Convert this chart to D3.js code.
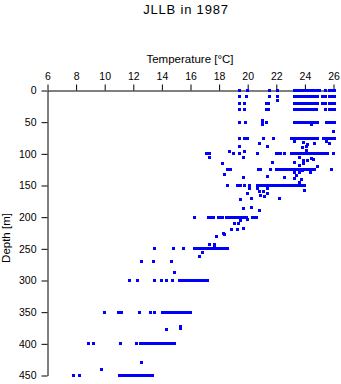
<!DOCTYPE html>
<html>
<head>
<meta charset="utf-8">
<script src="https://cdn.jsdelivr.net/npm/d3@7"></script>
<style>
  html, body { margin: 0; padding: 0; background: #fff; }
  svg { display: block; font-family: "Liberation Sans", Arial, sans-serif; }
</style>
</head>
<body>
<svg id="chart" width="341" height="384"></svg>
<script>
// ---- Data ----
const chartTitle = "JLLB in 1987";
const xLabel = "Temperature [\u00B0C]";
const yLabel = "Depth [m]";
const xTicks = [6, 8, 10, 12, 14, 16, 18, 20, 22, 24, 26];
const yTicks = [0, 50, 100, 150, 200, 250, 300, 350, 400, 450];

// Standard sampling depths and the temperatures observed at each
const levelDepths = [0, 10, 20, 30, 50, 75, 100, 125, 150, 200, 250, 300, 350, 400, 450];
const levelTemps = [
  [19.4, 20.0, 21.5, 22.05, 23.25, 23.4, 23.55, 23.7, 23.85, 24.0, 24.15, 24.3, 24.45, 24.6, 24.75, 24.9, 25.05, 25.45, 25.7, 25.85, 26.0, 26.1],
  [19.4, 19.95, 21.5, 22.05, 23.25, 23.4, 23.55, 23.7, 23.85, 24.0, 24.15, 24.3, 24.45, 24.6, 24.75, 24.9, 25.2, 25.45, 25.7, 25.85, 26.0, 26.1],
  [19.4, 19.8, 21.3, 21.45, 23.25, 23.4, 23.55, 23.7, 23.85, 24.0, 24.15, 24.3, 24.45, 24.6, 24.75, 24.9, 25.2, 25.45, 25.7, 25.85, 26.0, 26.1],
  [19.4, 19.8, 21.3, 21.45, 23.25, 23.4, 23.55, 23.7, 23.85, 24.0, 24.15, 24.3, 24.45, 24.6, 24.8, 25.45, 25.7, 25.85, 26.0, 26.1],
  [19.4, 19.83, 21.0, 21.3, 23.25, 23.4, 23.55, 23.7, 23.85, 24.0, 24.15, 24.3, 24.45, 24.6, 24.75, 24.9, 25.5, 25.75, 25.9, 26.05],
  [19.4, 19.8, 20.0, 21.1, 21.8, 23.05, 23.2, 23.35, 23.5, 23.65, 23.8, 23.95, 24.1, 24.25, 24.4, 24.55, 24.7, 24.9, 25.3, 25.45, 25.6, 25.75, 25.9, 26.05],
  [17.15, 17.3, 19.0, 19.4, 20.7, 22.0, 22.15, 22.3, 22.6, 23.05, 23.2, 23.35, 23.5, 23.65, 23.8, 23.95, 24.1, 24.25, 24.4, 24.55, 24.7, 24.85, 25.0, 25.15, 25.3, 25.45, 25.6, 26.0],
  [18.6, 18.8, 20.75, 20.9, 21.6, 22.0, 22.2, 22.35, 22.6, 22.75, 22.9, 23.05, 23.2, 23.35, 23.5, 23.65, 23.8, 23.95, 24.1, 24.25, 24.4, 24.55, 24.7, 25.85],
  [18.6, 19.3, 19.4, 19.5, 19.8, 20.1, 20.7, 20.85, 21.0, 21.15, 21.3, 21.45, 21.6, 21.75, 21.9, 22.05, 22.2, 22.35, 22.5, 22.65, 22.8, 22.95, 23.1, 23.25, 23.4, 23.55, 23.75, 24.0],
  [16.3, 17.25, 17.4, 17.6, 17.95, 18.1, 18.25, 18.5, 18.65, 18.8, 18.95, 19.1, 19.25, 19.4, 19.55, 19.7, 19.9, 20.35, 20.5, 20.6],
  [13.5, 14.8, 15.5, 16.3, 16.45, 16.6, 16.75, 16.9, 17.05, 17.2, 17.35, 17.5, 17.65, 17.8, 17.95, 18.1, 18.25, 18.4, 18.6],
  [11.7, 12.3, 13.5, 14.0, 14.3, 14.75, 15.2, 15.45, 15.6, 15.75, 15.9, 16.05, 16.2, 16.35, 16.5, 16.65, 16.8, 16.95, 17.1, 17.2],
  [10.0, 10.95, 11.15, 12.4, 13.2, 13.5, 14.05, 14.2, 14.35, 14.5, 14.65, 14.8, 14.95, 15.1, 15.25, 15.4, 15.55, 15.7, 15.85, 16.0],
  [8.85, 9.25, 11.1, 12.2, 12.5, 12.65, 12.8, 12.95, 13.1, 13.25, 13.4, 13.55, 13.7, 13.9, 14.05, 14.2, 14.4, 14.6, 14.75, 14.9],
  [7.85, 8.25, 11.0, 11.25, 11.4, 11.55, 11.7, 11.85, 12.0, 12.15, 12.3, 12.45, 12.6, 12.75, 12.9, 13.05, 13.2, 13.35]
];

// Observations between the standard depths
const extraTemps = [22.05, 21.0, 21.0, 24.45, 26.0,
  20.8, 23.3, 23.9, 24.2, 24.7, 25.5, 25.75,
  19.4, 21.4, 23.8, 24.1, 24.1, 18.7, 17.3, 19.8, 19.7, 23.6, 24.45, 23.9, 24.2, 24.6, 23.3, 21.7, 18.25, 23.6, 23.9, 24.9,
  23.3, 23.6, 23.85, 24.4, 18.4, 19.7, 21.35, 22.6, 23.4, 23.3, 23.75, 23.6,
  20.1, 20.7, 21.35, 20.8, 21.1, 21.4, 24.0, 20.0, 20.9, 21.2, 20.3, 19.5, 22.2,
  20.8, 19.7, 20.25,
  20.0, 19.1, 19.35, 19.5, 18.85, 19.3, 19.7, 18.3, 18.4, 17.85, 17.3, 17.7, 17.7,
  16.85, 16.6, 12.6, 13.4, 14.7, 14.9,
  14.3, 15.3, 15.3, 12.6, 9.8];
const extraDepths = [15, 47, 53, 53, 65,
  84, 80, 82, 85, 84, 80, 84,
  89, 89, 90, 89, 95, 97, 105, 97, 105, 105, 108, 110, 111, 109, 114, 114, 116, 118, 116, 120,
  129, 129, 127, 129, 132, 138, 136, 138, 134, 139, 141, 145,
  155, 155, 154, 160, 160, 162, 158, 163, 166, 168, 171, 172, 171,
  190, 187, 185,
  203, 210, 210, 205, 220, 220, 218, 225, 227, 230, 243, 243, 245,
  255, 262, 270, 270, 270, 287,
  378, 375, 372, 429, 440];

// ---- Build point table ----
const points = [];
levelDepths.forEach((d, i) => levelTemps[i].forEach(t => points.push({t, d})));
extraTemps.forEach((t, i) => points.push({t, d: extraDepths[i]}));

// ---- Drawing ----
const svg = d3.select("#chart");
const x = d3.scaleLinear().domain([6, 26]).range([47, 333]);
const y = d3.scaleLinear().domain([0, 450]).range([90, 375]);

svg.append("text")
  .attr("x", 186).attr("y", 14)
  .attr("text-anchor", "middle")
  .attr("font-size", 13)
  .attr("letter-spacing", 0.8)
  .text(chartTitle);

const gx = svg.append("g").attr("transform", "translate(0.5,90.5)")
  .call(d3.axisTop(x).tickValues(xTicks).tickSize(6).tickSizeOuter(0).tickPadding(5));
const gy = svg.append("g").attr("transform", "translate(47.5,0.5)")
  .call(d3.axisLeft(y).tickValues(yTicks).tickSize(6).tickSizeOuter(0).tickPadding(5));

[gx, gy].forEach(g => {
  g.selectAll("text").attr("font-size", 10.5).attr("fill", "#000")
    .attr("font-family", "'Liberation Sans', Arial, sans-serif");
  g.selectAll("line,path").attr("stroke", "#000");
});

svg.append("text")
  .attr("x", 190).attr("y", 63)
  .attr("text-anchor", "middle")
  .attr("font-size", 11.5)
  .text(xLabel);

svg.append("text")
  .attr("transform", "translate(10,238) rotate(-90)")
  .attr("text-anchor", "middle")
  .attr("font-size", 11.5)
  .text(yLabel);

svg.append("g").selectAll("rect")
  .data(points)
  .join("rect")
  .attr("x", p => Math.round(x(p.t)) - 1)
  .attr("y", p => Math.round(y(p.d)) - 1)
  .attr("width", 3)
  .attr("height", 3)
  .attr("fill", "#0000ff");
</script>
</body>
</html>
